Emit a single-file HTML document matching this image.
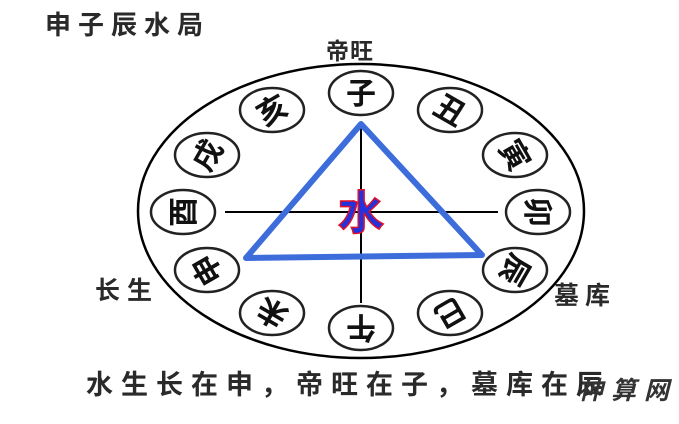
<!DOCTYPE html>
<html><head><meta charset="utf-8"><style>
body{margin:0;background:#fff;}
svg text{font-family:"Liberation Sans","Noto Sans CJK SC",sans-serif;}
</style></head><body>
<svg width="679" height="419" viewBox="0 0 679 419" xmlns="http://www.w3.org/2000/svg">
<rect width="679" height="419" fill="#fff"/>
<text x="45" y="34" font-size="26" font-weight="bold" fill="#2a2a2a" letter-spacing="7">申子辰水局</text>
<text x="326" y="59" font-size="23" font-weight="bold" fill="#2a2a2a" letter-spacing="1">帝旺</text>
<text x="95" y="299" font-size="25" font-weight="bold" fill="#2a2a2a" letter-spacing="7">长生</text>
<text x="554" y="304" font-size="25" font-weight="bold" fill="#2a2a2a" letter-spacing="6">墓库</text>
<ellipse cx="361" cy="211" rx="223" ry="147" fill="none" stroke="#000" stroke-width="2.5"/>
<line x1="225" y1="212" x2="498" y2="212" stroke="#000" stroke-width="2"/>
<line x1="361" y1="123" x2="361" y2="303" stroke="#000" stroke-width="2"/>
<polygon points="361,124 246,258 482,255" fill="none" stroke="#3d6ddb" stroke-width="6" stroke-linejoin="round"/>
<text x="361" y="229" font-size="46" font-weight="bold" fill="#2233dd" stroke="#e0102a" stroke-width="1.5" text-anchor="middle">水</text>
<g font-size="30" font-weight="bold" fill="#111" text-anchor="middle">
<g transform="translate(361,93)"><ellipse rx="32" ry="22" fill="#fff" stroke="#222" stroke-width="2.5"/><text y="11">子</text></g>
<g transform="translate(450,110)"><ellipse rx="32" ry="22" fill="#fff" stroke="#222" stroke-width="2.5"/><text y="11" transform="rotate(30)">丑</text></g>
<g transform="translate(515,155)"><ellipse rx="32" ry="22" fill="#fff" stroke="#222" stroke-width="2.5"/><text y="11" transform="rotate(60)">寅</text></g>
<g transform="translate(538,212)"><ellipse rx="32" ry="22" fill="#fff" stroke="#222" stroke-width="2.5"/><text y="11" transform="rotate(90)">卯</text></g>
<g transform="translate(515,270)"><ellipse rx="32" ry="22" fill="#fff" stroke="#222" stroke-width="2.5"/><text y="11" transform="rotate(120)">辰</text></g>
<g transform="translate(450,313)"><ellipse rx="32" ry="22" fill="#fff" stroke="#222" stroke-width="2.5"/><text y="11" transform="rotate(150)">巳</text></g>
<g transform="translate(361,328)"><ellipse rx="32" ry="22" fill="#fff" stroke="#222" stroke-width="2.5"/><text y="11" transform="rotate(180)">午</text></g>
<g transform="translate(272,313)"><ellipse rx="32" ry="22" fill="#fff" stroke="#222" stroke-width="2.5"/><text y="11" transform="rotate(210)">未</text></g>
<g transform="translate(207,270)"><ellipse rx="32" ry="22" fill="#fff" stroke="#222" stroke-width="2.5"/><text y="11" transform="rotate(240)">申</text></g>
<g transform="translate(183,212)"><ellipse rx="32" ry="22" fill="#fff" stroke="#222" stroke-width="2.5"/><text y="11" transform="rotate(270)">酉</text></g>
<g transform="translate(207,155)"><ellipse rx="32" ry="22" fill="#fff" stroke="#222" stroke-width="2.5"/><text y="11" transform="rotate(300)">戌</text></g>
<g transform="translate(272,110)"><ellipse rx="32" ry="22" fill="#fff" stroke="#222" stroke-width="2.5"/><text y="11" transform="rotate(330)">亥</text></g>
</g>
<text x="86" y="394" font-size="27" font-weight="bold" fill="#2a2a2a" letter-spacing="8">水生长在申，帝旺在子，墓库在辰</text>
<text x="578" y="399" font-size="25" font-weight="bold" fill="#333" font-style="italic" letter-spacing="8">神算网</text>
</svg>
</body></html>
